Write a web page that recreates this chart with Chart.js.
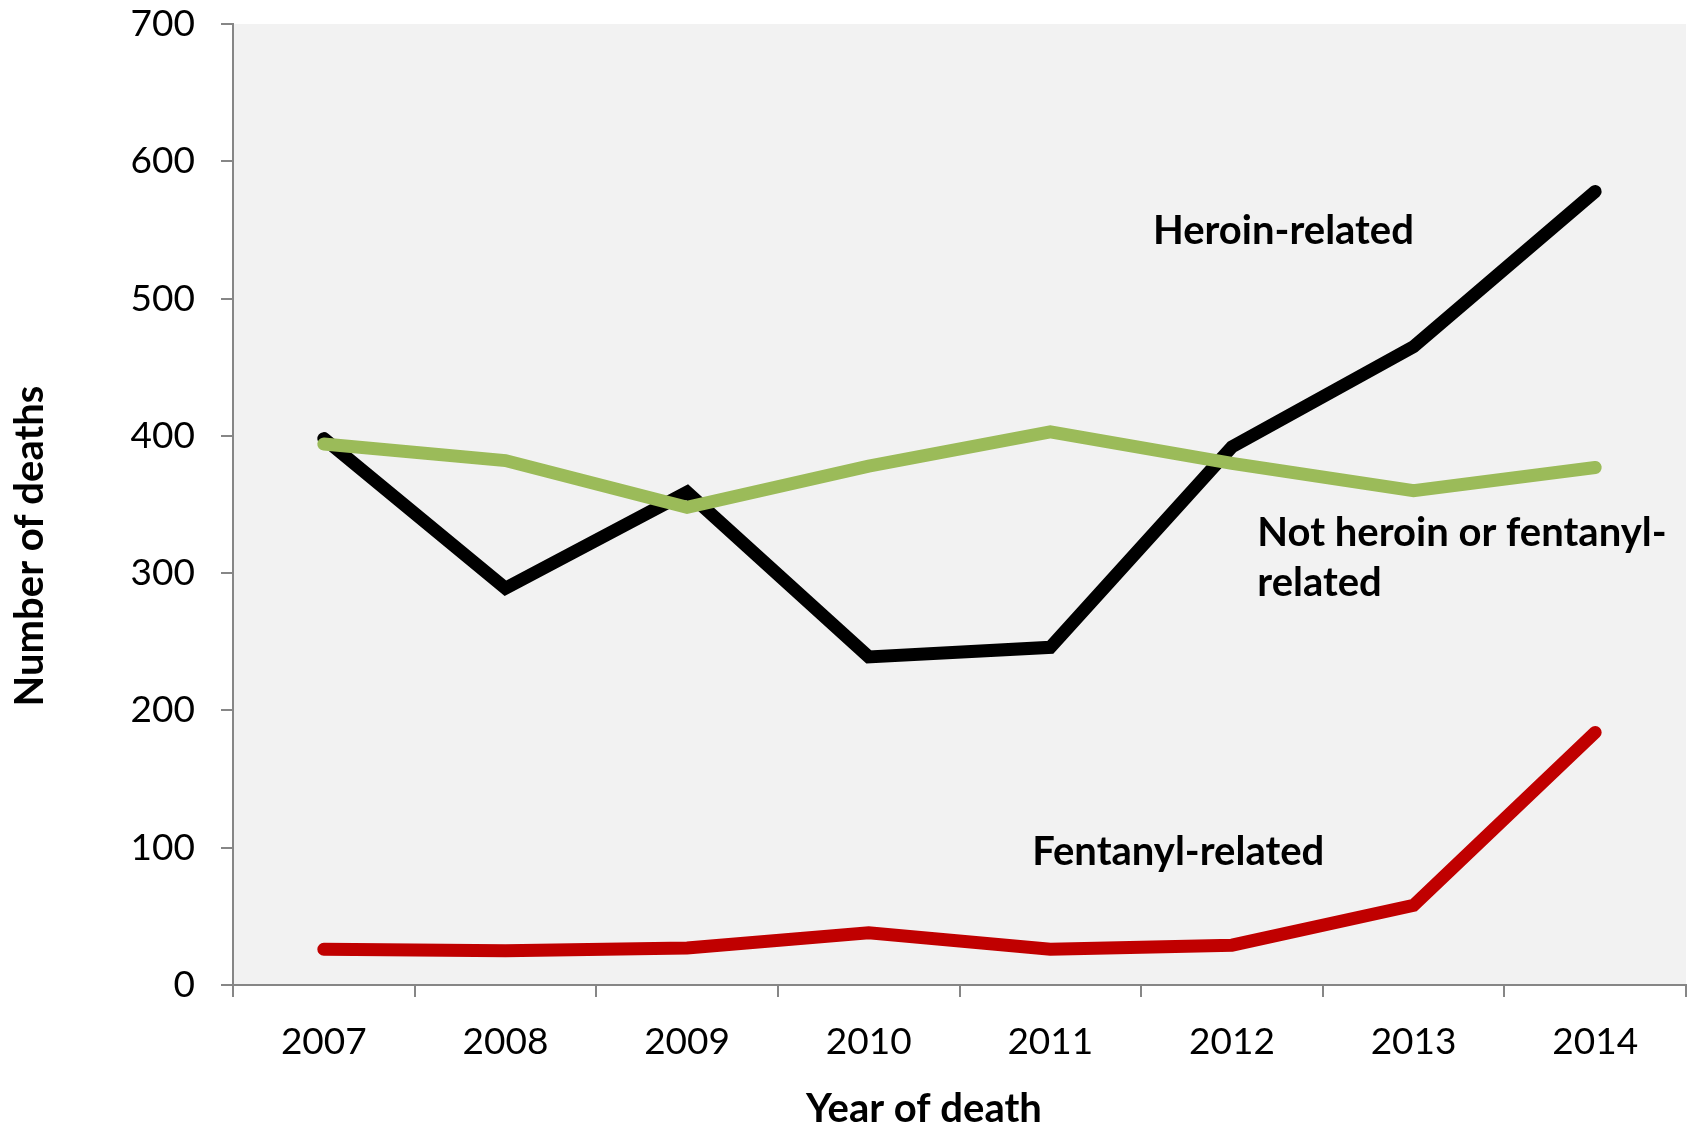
<!DOCTYPE html>
<html>
<head>
<meta charset="utf-8">
<script src="https://cdn.jsdelivr.net/npm/chart.js@4/dist/chart.umd.min.js"></script>
<style>
  html, body { margin: 0; padding: 0; background: #ffffff; }
  #wrap { width: 1689px; height: 1128px; position: relative; }
</style>
</head>
<body>
<div id="wrap"><canvas id="c" width="1689" height="1128"></canvas></div>
<script>
const years = ['2007', '2008', '2009', '2010', '2011', '2012', '2013', '2014'];
const heroinRelated = [398, 289, 359, 239, 246, 392, 465, 578];
const notHeroinOrFentanyl = [394, 382, 348, 378, 403, 380, 360, 377];
const fentanylRelated = [26, 25, 27, 38, 26, 29, 58, 184];
const yTicks = [0, 100, 200, 300, 400, 500, 600, 700];
const xTitle = 'Year of death';
const yTitle = 'Number of deaths';

// Series labels drawn in the plot, anchored in data coordinates (category index, value)
const seriesLabels = [
  { lines: ['Heroin-related'], x: 4.565, y: 549 },
  { lines: ['Not heroin or fentanyl-', 'related'], x: 5.14, y: 329 },
  { lines: ['Fentanyl-related'], x: 3.9, y: 97 }
];

const FONT = 'Lato, "Open Sans", sans-serif';
const AXIS_GRAY = '#868686';

const plotBg = {
  id: 'plotBg',
  beforeDraw(chart) {
    const { ctx, chartArea: a } = chart;
    ctx.save();
    ctx.fillStyle = '#F2F2F2';
    ctx.fillRect(a.left, a.top, a.right - a.left, a.bottom - a.top);
    ctx.restore();
  }
};

const labelPlugin = {
  id: 'seriesLabels',
  afterDatasetsDraw(chart) {
    const { ctx, scales } = chart;
    const xs = scales.x, ys = scales.y;
    ctx.save();
    ctx.fillStyle = '#000';
    ctx.font = 'bold 40px ' + FONT;
    ctx.textAlign = 'left';
    ctx.textBaseline = 'middle';
    seriesLabels.forEach(l => {
      const px = xs.getPixelForValue(0) + l.x * (xs.getPixelForValue(1) - xs.getPixelForValue(0));
      const py = ys.getPixelForValue(l.y);
      l.lines.forEach((t, i) => ctx.fillText(t, px, py + i * 50));
    });
    // axis titles
    ctx.font = 'bold 40px ' + FONT;
    ctx.textAlign = 'center';
    ctx.textBaseline = 'alphabetic';
    ctx.fillText(xTitle, 924, 1122);
    ctx.translate(43, 546);
    ctx.rotate(-Math.PI / 2);
    ctx.fillText(yTitle, 0, 0);
    ctx.restore();
  }
};

const common = {
  tension: 0,
  pointRadius: 0,
  pointHoverRadius: 0,
  borderWidth: 13,
  borderCapStyle: 'round',
  borderJoinStyle: 'miter',
  fill: false
};

new Chart(document.getElementById('c'), {
  type: 'line',
  data: {
    labels: years,
    datasets: [
      Object.assign({ label: 'Heroin-related', data: heroinRelated, borderColor: '#000000', order: 1 }, common),
      Object.assign({ label: 'Not heroin or fentanyl-related', data: notHeroinOrFentanyl, borderColor: '#9BBB59', order: 0 }, common),
      Object.assign({ label: 'Fentanyl-related', data: fentanylRelated, borderColor: '#C00000', order: 2 }, common)
    ]
  },
  options: {
    responsive: false,
    animation: false,
    devicePixelRatio: 1,
    layout: { autoPadding: false, padding: { left: 0, right: 3, top: 24, bottom: 0 } },
    plugins: { legend: { display: false }, tooltip: { enabled: false } },
    scales: {
      x: {
        type: 'category',
        offset: true,
        grid: { offset: true, drawOnChartArea: false, drawTicks: true, tickLength: 12, color: AXIS_GRAY, lineWidth: 2 },
        border: { color: AXIS_GRAY, width: 2 },
        ticks: { color: '#000', font: { family: FONT, size: 37 }, padding: 23, maxRotation: 0 },
        title: { display: false },
        afterFit(s) { s.height = 143; s.paddingLeft = 0; s.paddingRight = 0; }
      },
      y: {
        min: 0, max: 700,
        afterBuildTicks(s) { s.ticks = yTicks.map(v => ({ value: v })); },
        grid: { drawOnChartArea: false, drawTicks: true, tickLength: 12, color: AXIS_GRAY, lineWidth: 2 },
        border: { color: AXIS_GRAY, width: 2 },
        ticks: { color: '#000', font: { family: FONT, size: 37 }, padding: 26 },
        title: { display: false },
        afterFit(s) { s.width = 233; s.paddingTop = 0; s.paddingBottom = 0; }
      }
    }
  },
  plugins: [plotBg, labelPlugin]
});
</script>
</body>
</html>
